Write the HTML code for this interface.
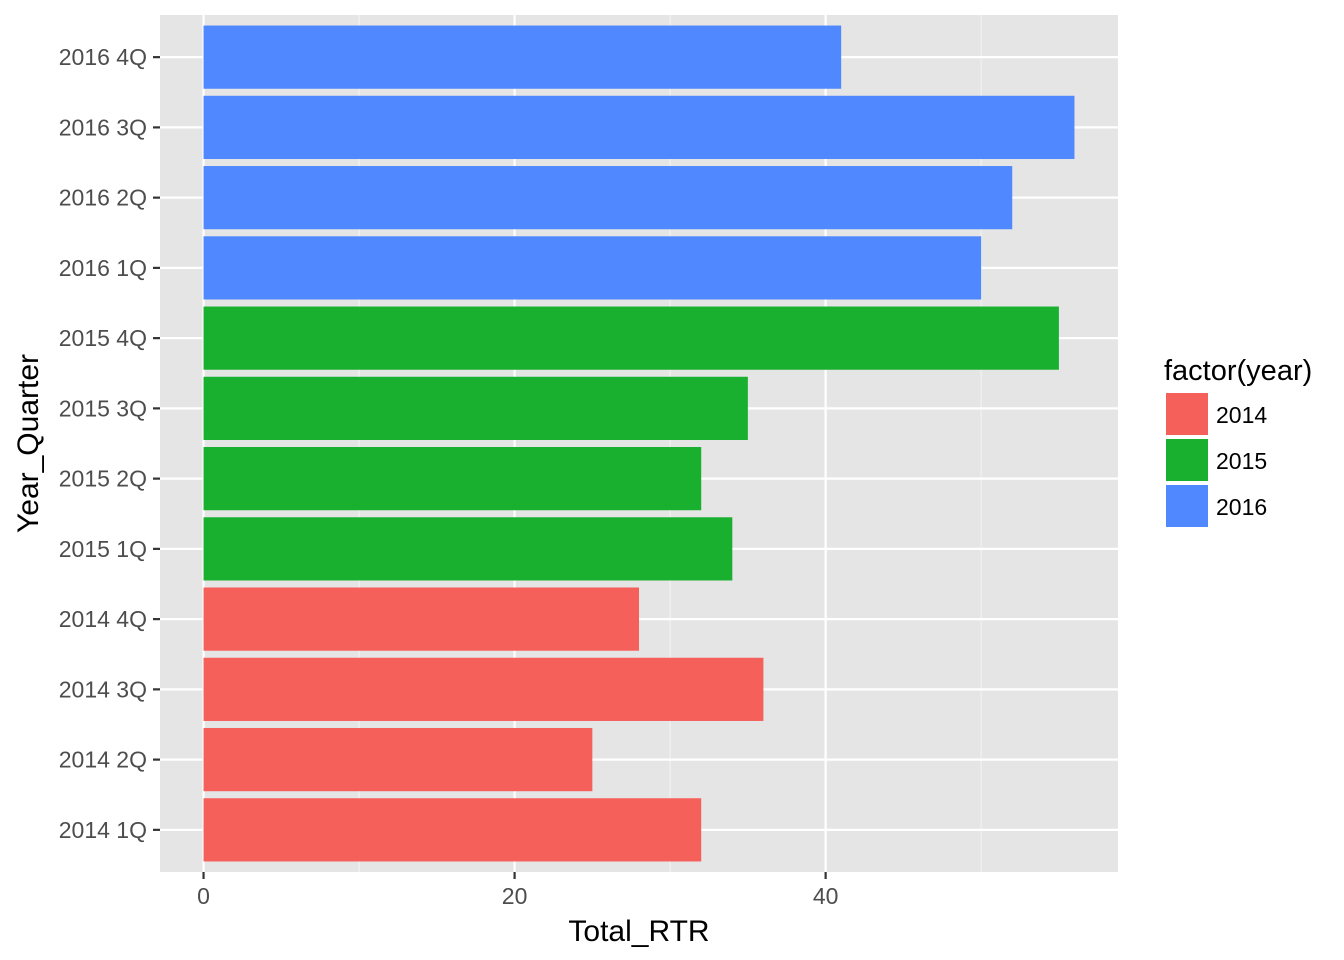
<!DOCTYPE html>
<html><head><meta charset="utf-8"><style>
html,body{margin:0;padding:0;background:#fff;}
svg{display:block;font-family:"Liberation Sans",Arial,sans-serif;}
</style></head><body>
<svg id="chart" width="1344" height="960" xmlns="http://www.w3.org/2000/svg"></svg>
<script>
const categories = ["2014 1Q","2014 2Q","2014 3Q","2014 4Q","2015 1Q","2015 2Q","2015 3Q","2015 4Q","2016 1Q","2016 2Q","2016 3Q","2016 4Q"];
const values = [32,25,36,28,34,32,35,55,50,52,56,41];
const years = ["2014","2014","2014","2014","2015","2015","2015","2015","2016","2016","2016","2016"];
const legendYears = ["2014","2015","2016"];
const xTicks = [0,20,40];
const xMinor = [10,30,50];

const barColors = {"2014":"#F5605B","2015":"#19B02F","2016":"#5088FF"};
const NS = "http://www.w3.org/2000/svg";
const svg = document.getElementById('chart');
const P = {l:160, r:1118, t:15, b:872};
const xMax = Math.max(...values);
const x0 = -0.05*xMax, x1 = xMax*1.05;
const X = v => P.l + (v - x0)/(x1 - x0)*(P.r - P.l);
const n = categories.length;
const step = (P.b - P.t)/(n - 1 + 1.2);
const Y = i => P.b - (0.6 + i)*step;

function el(tag, attrs, parent){
  const e = document.createElementNS(NS, tag);
  for (const k in attrs) e.setAttribute(k, attrs[k]);
  (parent||svg).appendChild(e);
  return e;
}
const panel = el('rect',{x:P.l,y:P.t,width:P.r-P.l,height:P.b-P.t,fill:'#E5E5E5'});



xMinor.forEach(v=>{
  const g = el('line',{x1:X(v),x2:X(v),y1:P.t,y2:P.b,stroke:'#F2F2F2','stroke-width':1.1});
  
  
});
xTicks.forEach(v=>{
  const g = el('line',{x1:X(v),x2:X(v),y1:P.t,y2:P.b,stroke:'#fff','stroke-width':2.2});
  
  
});
categories.forEach((c,i)=>{
  const g = el('line',{x1:P.l,x2:P.r,y1:Y(i),y2:Y(i),stroke:'#fff','stroke-width':2.2});
  
  
});
categories.forEach((c,i)=>{
  const h = step*0.9;
  const b = el('rect',{x:X(0),y:Y(i)-h/2,width:X(values[i])-X(0),height:h,fill:barColors[years[i]]});
  
  
  const t = el('line',{x1:P.l-7,x2:P.l,y1:Y(i),y2:Y(i),stroke:'#333','stroke-width':2.2});
  
  
  const lb = el('text',{x:P.l-13,y:Y(i)+8,'text-anchor':'end','font-size':23,fill:'#4D4D4D'});
  lb.textContent = c;
  
  
});
xTicks.forEach(v=>{
  const t = el('line',{x1:X(v),x2:X(v),y1:P.b,y2:P.b+7,stroke:'#333','stroke-width':2.2});
  
  
  const lb = el('text',{x:X(v),y:P.b+32,'text-anchor':'middle','font-size':23,fill:'#4D4D4D'});
  lb.textContent = v;
  
  
});
const xt = el('text',{x:(P.l+P.r)/2,y:941,'text-anchor':'middle','font-size':30,fill:'#000'});
xt.textContent='Total_RTR';


const yt = el('text',{x:0,y:0,'text-anchor':'middle','font-size':30,fill:'#000',transform:`translate(38,${(P.t+P.b)/2}) rotate(-90)`});
yt.textContent='Year_Quarter';



const lt = el('text',{x:1164,y:380,'font-size':29,fill:'#000'});
lt.textContent='factor(year)';


legendYears.forEach((yr,k)=>{
  const y = 393 + k*46;
  const r = el('rect',{x:1166,y:y,width:42,height:42,fill:barColors[yr]});
  
  
  const t = el('text',{x:1216,y:y+30,'font-size':23,fill:'#000'});
  t.textContent=yr;
  
  
});
</script>
</body></html>
